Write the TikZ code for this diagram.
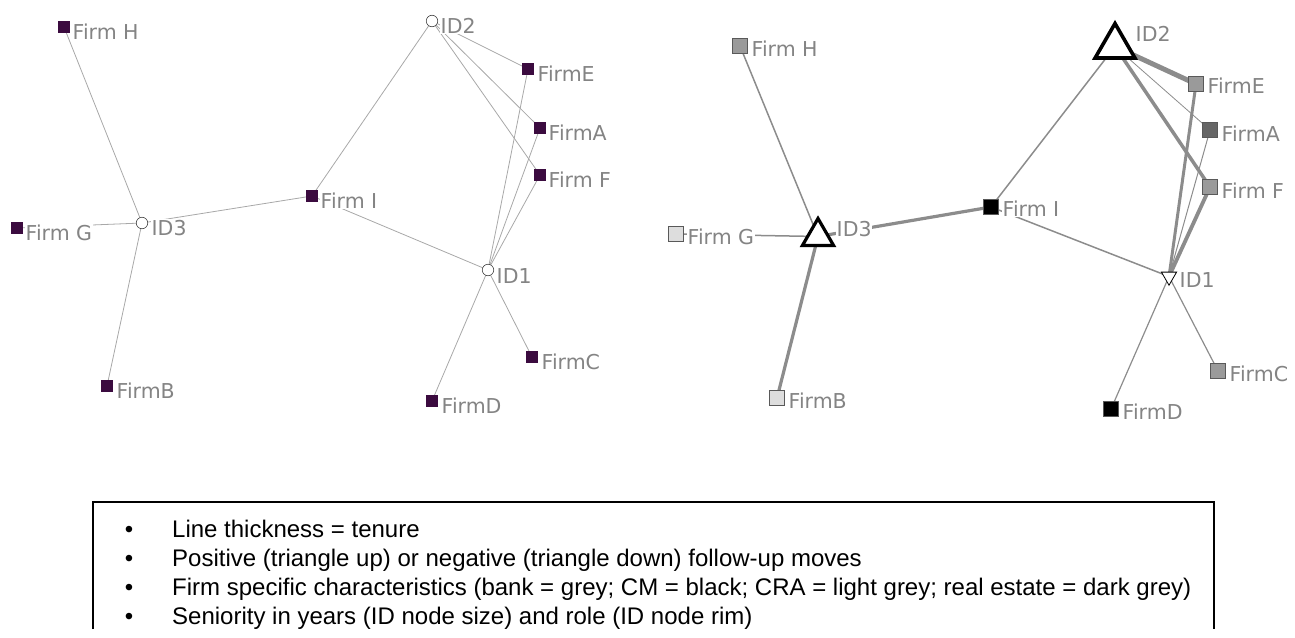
\documentclass[tikz,border=0pt]{standalone}
\usepackage{fontspec}
\setmainfont{Liberation Sans}
\newfontfamily\netfont{DejaVu Sans}
\usetikzlibrary{shapes.geometric,backgrounds}

\definecolor{netlabel}{HTML}{848484}
\definecolor{plum}{HTML}{3B0B3F}
\definecolor{lnedge}{HTML}{A8A8A8}
\definecolor{rtedge}{HTML}{8C8C8C}
\definecolor{bank}{HTML}{9A9A9A}
\definecolor{realestate}{HTML}{666666}
\definecolor{cra}{HTML}{DDDDDD}

\tikzset{
  lab/.style={font=\netfont\fontsize{20.5}{22}\selectfont, text=netlabel, fill=white,
              inner xsep=0.5pt, inner ysep=1pt, anchor=base west},
  lfirm/.style={rectangle, fill=plum, minimum size=12.5pt, inner sep=0pt},
  lid/.style={circle, draw=black!75, fill=white, minimum size=11.5pt, inner sep=0pt, line width=0.6pt},
  rfirm/.style={rectangle, draw=black!65, line width=0.8pt, minimum size=15.5pt, inner sep=0pt},
  ledge/.style={draw=lnedge, line width=0.8pt},
  redge/.style={draw=rtedge},
  idup/.style={regular polygon, regular polygon sides=3, draw=black, fill=white, inner sep=0pt},
  iddown/.style={idup, shape border rotate=180},
  legtext/.style={anchor=base west, inner sep=0pt, font=\fontsize{24}{28}\selectfont},
  legbullet/.style={anchor=base, inner sep=0pt, font=\fontsize{24}{28}\selectfont},
}

\begin{document}
\begin{tikzpicture}[x=1pt, y=-1pt]
\useasboundingbox (0,0) rectangle (1295,637);

% ---------------- network without attributes ----------------
\node[lfirm] (lH) at (64,27) {};
\node[lfirm] (lE) at (528,69) {};
\node[lfirm] (lA) at (540,128) {};
\node[lfirm] (lF) at (540,175) {};
\node[lfirm] (lI) at (312,196) {};
\node[lfirm] (lG) at (17,228) {};
\node[lfirm] (lC) at (532,357) {};
\node[lfirm] (lB) at (107,386) {};
\node[lfirm] (lD) at (432,401) {};
\node[lid] (lID2) at (432,21) {};
\node[lid] (lID3) at (142,223) {};
\node[lid] (lID1) at (488,270) {};

\begin{scope}[on background layer]
  \draw[ledge] (lH.center) -- (lID3.center);
  \draw[ledge] (lG.center) -- (lID3.center);
  \draw[ledge] (lB.center) -- (lID3.center);
  \draw[ledge] (lID3.center) -- (lI.center);
  \draw[ledge] (lI.center) -- (lID2.center);
  \draw[ledge] (lI.center) -- (lID1.center);
  \draw[ledge] (lID2.center) -- (lE.center);
  \draw[ledge] (lID2.center) -- (lA.center);
  \draw[ledge] (lID2.center) -- (lF.center);
  \draw[ledge] (lID1.center) -- (lE.center);
  \draw[ledge] (lID1.center) -- (lA.center);
  \draw[ledge] (lID1.center) -- (lF.center);
  \draw[ledge] (lID1.center) -- (lC.center);
  \draw[ledge] (lID1.center) -- (lD.center);
\end{scope}

\node[lab] (lHt) at (72,39) {Firm H};
\node[lab] (lEt) at (537,81) {FirmE};
\node[lab] (lAt) at (548,140) {FirmA};
\node[lab] (lFt) at (548,187) {Firm F};
\node[lab] (lIt) at (320,208) {Firm I};
\node[lab] (lGt) at (25,240) {Firm G};
\node[lab] (lCt) at (541,369) {FirmC};
\node[lab] (lBt) at (116,398) {FirmB};
\node[lab] (lDt) at (441,413) {FirmD};
\node[lab] (lID2t) at (440,33) {ID2};
\node[lab] (lID3t) at (151,235) {ID3};
\node[lab] (lID1t) at (496,283) {ID1};

% ---------------- network with attributes ----------------
\node[rfirm, fill=bank] (rH) at (740,46) {};
\node[rfirm, fill=bank] (rE) at (1196,84) {};
\node[rfirm, fill=realestate] (rA) at (1210,130) {};
\node[rfirm, fill=bank] (rF) at (1210,187) {};
\node[rfirm, fill=black] (rI) at (991,207) {};
\node[rfirm, fill=cra] (rG) at (676,234) {};
\node[rfirm, fill=bank] (rC) at (1218,371) {};
\node[rfirm, fill=cra] (rB) at (777,398) {};
\node[rfirm, fill=black] (rD) at (1111,409) {};
\node[idup, minimum size=46pt, line width=3.6pt] (rID2) at (1115,46.5) {};
\node[idup, minimum size=36pt, line width=3.2pt] (rID3) at (818,236.5) {};
\node[iddown, minimum size=17.5pt, line width=0.8pt] (rID1) at (1169,276.5) {};

\begin{scope}[on background layer]
  \draw[redge, line width=1.5pt] (rH.center) -- (rID3.center);
  \draw[redge, line width=1.5pt] (rG.center) -- (rID3.center);
  \draw[redge, line width=3.2pt] (rB.center) -- (rID3.center);
  \draw[redge, line width=3.2pt] (rID3.center) -- (rI.center);
  \draw[redge, line width=1.5pt] (rI.center) -- (rID2.center);
  \draw[redge, line width=1.5pt] (rI.center) -- (rID1.center);
  \draw[redge, line width=5pt] (rID2.center) -- (rE.center);
  \draw[redge, line width=0.8pt] (rID2.center) -- (rA.center);
  \draw[redge, line width=3.5pt] (rID2.center) -- (rF.center);
  \draw[redge, line width=3pt] (rID1.center) -- (rE.center);
  \draw[redge, line width=1pt] (rID1.center) -- (rA.center);
  \draw[redge, line width=3.8pt] (rID1.center) -- (rF.center);
  \draw[redge, line width=1.2pt] (rID1.center) -- (rC.center);
  \draw[redge, line width=1.2pt] (rID1.center) -- (rD.center);
\end{scope}

\node[lab] (rHt) at (751,56) {Firm H};
\node[lab] (rEt) at (1207,93) {FirmE};
\node[lab] (rAt) at (1221,141) {FirmA};
\node[lab] (rFt) at (1221,198) {Firm F};
\node[lab] (rIt) at (1002,216) {Firm I};
\node[lab] (rGt) at (687,244) {Firm G};
\node[lab] (rCt) at (1229,381) {FirmC};
\node[lab] (rBt) at (788,408) {FirmB};
\node[lab] (rDt) at (1122,419) {FirmD};
\node[lab] (rID2t) at (1135,41) {ID2};
\node[lab] (rID3t) at (836,236) {ID3};
\node[lab] (rID1t) at (1179,287) {ID1};

% ---------------- key ----------------
\draw[line width=1.3pt] (93,629) -- (93,502) -- (1214,502) -- (1214,629);
\node[legbullet] (b1) at (129,537) {\textbullet};
\node[legbullet] (b2) at (129,566) {\textbullet};
\node[legbullet] (b3) at (129,595) {\textbullet};
\node[legbullet] (b4) at (129,624) {\textbullet};
\node[legtext] (k1) at (172,537) {Line thickness = tenure};
\node[legtext] (k2) at (172,566) {Positive (triangle up) or negative (triangle down) follow-up moves};
\node[legtext] (k3) at (172,595) {Firm specific characteristics (bank = grey; CM = black; CRA = light grey; real estate = dark grey)};
\node[legtext] (k4) at (172,624) {Seniority in years (ID node size) and role (ID node rim)};
\end{tikzpicture}
\end{document}
